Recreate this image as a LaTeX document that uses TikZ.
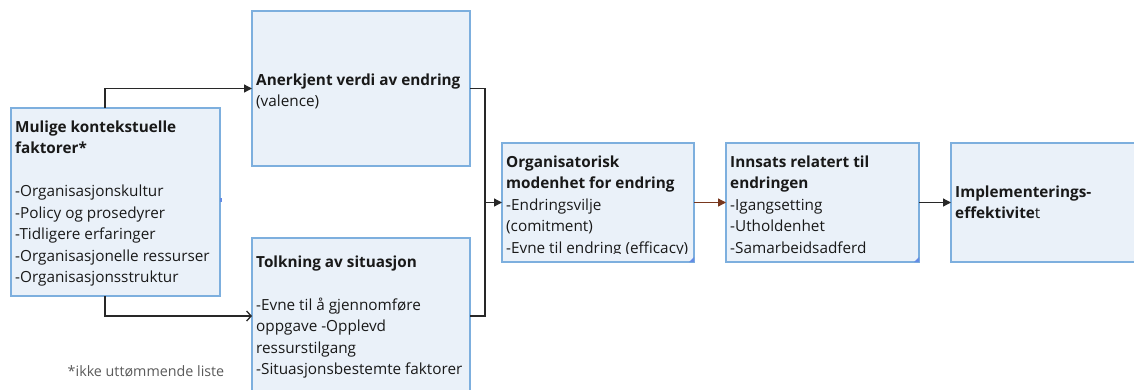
\documentclass[tikz,border=0pt]{standalone}
\usepackage{fontspec}
\setmainfont{Open Sans}
\usetikzlibrary{arrows.meta}
\definecolor{boxfill}{RGB}{234,241,249}
\definecolor{boxline}{RGB}{125,175,222}
\definecolor{wire}{RGB}{40,40,40}
\definecolor{brownwire}{RGB}{120,55,30}
\definecolor{ink}{RGB}{25,25,25}
\definecolor{note}{RGB}{90,90,90}
\begin{document}
\begin{tikzpicture}[x=1pt,y=-1pt,
  box/.style={draw=boxline,fill=boxfill,line width=1.4pt,inner sep=0pt,outer sep=0pt,anchor=north west},
  label/.style={anchor=north west,inner sep=0pt,align=left,text=ink,
    font=\fontsize{15.3}{21.5}\selectfont},
  wirearrow/.style={draw=wire,line width=1.3pt,-{Triangle[length=8pt,width=8pt]}},
  openarrow/.style={draw=wire,line width=1.3pt,-{Straight Barb[length=4.5pt,width=10pt,line width=1.3pt]}},
  plainwire/.style={draw=wire,line width=1.3pt},
  corner/.style={fill=boxline!80!blue}
]
\useasboundingbox (0,0) rectangle (1134,389);
\clip (0,0) rectangle (1134,389);

% boxes
\node[box,minimum width=209pt,minimum height=188pt] (ctx) at (11,108) {};
\node[box,minimum width=218pt,minimum height=155pt] (val) at (252,11) {};
\node[box,minimum width=218pt,minimum height=156pt] (sit) at (252,238) {};
\node[box,minimum width=192pt,minimum height=119pt] (mod) at (502,143) {};
\node[box,minimum width=193pt,minimum height=119pt] (eff) at (726,143) {};
\node[box,minimum width=200pt,minimum height=119pt] (imp) at (951,143) {};

% small marker on the context box edge
\fill[boxline!80!blue] (219.5,198) rectangle (222,201.5);

% overflow markers
\fill[corner] (mod.south east) -- ++(-5,0) -- ++(5,-5) -- cycle;
\fill[corner] (eff.south east) -- ++(-5,0) -- ++(5,-5) -- cycle;

% texts
\node[label] (ctxT) at (15,117) {\strut\textbf{Mulige kontekstuelle}\\\strut\textbf{faktorer*}\\\strut\\
  \strut-Organisasjonskultur\\\strut-Policy og prosedyrer\\\strut-Tidligere erfaringer\\
  \strut-Organisasjonelle ressurser\\\strut-Organisasjonsstruktur};
\node[label] (valT) at (256,70) {\strut\textbf{Anerkjent verdi av endring}\\\strut(valence)};
\node[label] (sitT) at (256,252) {\strut\textbf{Tolkning av situasjon}\\\strut\\
  \strut-Evne til å gjennomføre\\\strut oppgave -Opplevd\\\strut ressurstilgang\\
  \strut-Situasjonsbestemte faktorer};
\begin{scope}
  \clip (503,144) rectangle (692,253);
  \node[label] (modT) at (506,152) {\strut\textbf{Organisatorisk}\\\strut\textbf{modenhet for endring}\\
    \strut-Endringsvilje\\\strut(comitment)\\\strut-Evne til endring (efficacy)};
\end{scope}
\begin{scope}
  \clip (727,144) rectangle (917,255);
  \node[label] (effT) at (730,152) {\strut\textbf{Innsats relatert til}\\\strut\textbf{endringen}\\
    \strut-Igangsetting\\\strut-Utholdenhet\\\strut-Samarbeidsadferd};
\end{scope}
\node[label] (impT) at (955,182) {\strut\textbf{Implementerings-}\\\strut\textbf{effektivite}t};

\node[text=note,font=\fontsize{14.3}{16}\selectfont,inner sep=0pt] (fn) at (146,371) {*ikke uttømmende liste};

% connectors
\draw[wirearrow] ([xshift=-10.5pt]ctx.north) |- (val.west);
\draw[openarrow] ([xshift=-10.5pt]ctx.south) |- (sit.west);
\coordinate (join) at ([xshift=-17pt]mod.west);
\draw[plainwire] (val.east) -| (join);
\draw[plainwire] (sit.east) -| (join);
\draw[wirearrow] (join) -- (mod.west);
\draw[wirearrow,draw=brownwire] (mod.east) -- (eff.west);
\draw[wirearrow] (eff.east) -- (imp.west);
\end{tikzpicture}
\end{document}
